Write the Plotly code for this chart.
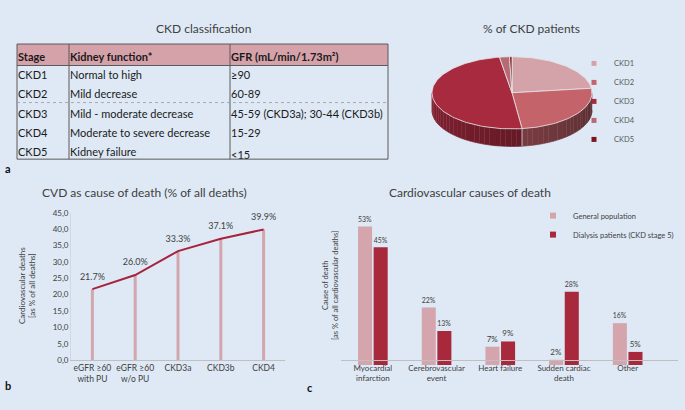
import numpy as np
import plotly.graph_objects as go

W, H = 685, 410
FONT = "Lato"
BG = "#dee9f5"
TXT = "#404040"

# ---- data ----
table_header = ["Stage", "Kidney function*", "GFR (mL/min/1.73m²)"]
stages = ["CKD1", "CKD2", "CKD3", "CKD4", "CKD5"]
kidney_function = ["Normal to high", "Mild decrease", "Mild - moderate decrease",
                   "Moderate to severe decrease", "Kidney failure"]
gfr = ["≥90", "60-89", "45-59 (CKD3a); 30-44 (CKD3b)", "15-29", "<15"]

pie_share = [23, 25, 49.5, 2, 0.5]

cvd_groups = ["eGFR ≥60<br>with PU", "eGFR ≥60<br>w/o PU", "CKD3a", "CKD3b", "CKD4"]
cvd_share = [21.7, 26.0, 33.3, 37.1, 39.9]

causes = ["Myocardial<br>infarction", "Cerebrovascular<br>event", "Heart failure",
          "Sudden cardiac<br>death", "Other"]
general_pop = [53, 22, 7, 2, 16]
dialysis = [45, 13, 9, 28, 5]


def px_x(x):
    return x / W


def px_y(y):
    return 1 - y / H


def darken(hexcol, f):
    r, g, b = (int(hexcol[i:i + 2], 16) for i in (1, 3, 5))
    return "#%02x%02x%02x" % (int(r * f), int(g * f), int(b * f))


fig = go.Figure()

# ---- a: table, header row and body as two table traces ----
no_header = dict(values=[], height=0, line_color="rgba(0,0,0,0)", fill_color="rgba(0,0,0,0)")
cell_style = dict(align="left", fill_color="rgba(0,0,0,0)", line_color="rgba(0,0,0,0)",
                  font=dict(family=FONT, size=11, color="#1a1a1a"), height=19.2)
fig.add_trace(go.Table(
    domain=dict(x=[px_x(10), px_x(407)], y=[px_y(70), px_y(22)]),
    columnwidth=[52, 161, 184], header=no_header,
    cells=dict(values=[[f"<b>{h}</b>"] for h in table_header], **cell_style),
))
fig.add_trace(go.Table(
    domain=dict(x=[px_x(10), px_x(407)], y=[px_y(178), px_y(43)]),
    columnwidth=[52, 161, 184], header=no_header,
    cells=dict(values=[stages, kidney_function, gfr], **cell_style),
))

# ---- a: 3d-looking pie ----
pie_cols = ["#d4a3aa", "#c5636b", "#a72a3e", "#b56a74", "#7b1520"]
cx, cy, rx, ry, depth = 512, 90, 80, 37, 18
bounds = np.cumsum([0] + pie_share) / sum(pie_share) * 360


def ell(t):
    t = np.radians(t)
    return cx + rx * np.sin(t), cy - ry * np.cos(t)


for i in range(len(stages)):
    s0, s1 = max(bounds[i], 90), min(bounds[i + 1], 270)
    if s1 <= s0:
        continue
    edges = np.linspace(s0, s1, int(np.ceil((s1 - s0) / 4)) + 1)
    for e0, e1 in zip(edges[:-1], edges[1:]):
        ts = np.linspace(e0, e1, 4)
        xs, ys = ell(ts)
        px_ = list(xs) + list(xs[::-1])
        py_ = list(ys) + list((ys + depth)[::-1])
        f = 0.45 + 0.35 * ((e0 + e1) / 2 - 90) / 180
        fig.add_trace(go.Scatter(x=px_, y=py_, fill="toself", mode="lines",
                                 line=dict(width=0.6, color=darken(pie_cols[i], f)),
                                 fillcolor=darken(pie_cols[i], f),
                                 xaxis="x3", yaxis="y3", showlegend=False, hoverinfo="skip"))

for b in bounds[1:-1]:
    if 90 < b < 270:
        bx, by = ell(b)
        fig.add_trace(go.Scatter(x=[bx, bx], y=[by, by + depth], mode="lines",
                                 line=dict(color="#e0e0e0", width=0.8),
                                 xaxis="x3", yaxis="y3", showlegend=False, hoverinfo="skip"))

for i, name in enumerate(stages):
    ts = np.linspace(bounds[i], bounds[i + 1], max(3, int((bounds[i + 1] - bounds[i]) / 2) + 2))
    xs, ys = ell(ts)
    fig.add_trace(go.Scatter(x=[cx] + list(xs) + [cx], y=[cy] + list(ys) + [cy],
                             fill="toself", mode="lines", name=name, showlegend=False,
                             line=dict(color="#e6e6e6", width=0.8), fillcolor=pie_cols[i],
                             xaxis="x3", yaxis="y3", hoverinfo="skip"))
    # small square legend key
    fig.add_trace(go.Scatter(x=[None], y=[None], mode="markers", name=name,
                             marker=dict(symbol="square", size=5, color=pie_cols[i]),
                             xaxis="x3", yaxis="y3", legend="legend2"))

# ---- b: line chart ----
fig.add_trace(go.Bar(x=cvd_groups, y=cvd_share, width=0.07, marker_color="#d3a6ae",
                     marker_line_width=0, showlegend=False, hoverinfo="skip",
                     xaxis="x", yaxis="y"))
# invisible markers just to lift the value labels off the line
fig.add_trace(go.Scatter(x=cvd_groups, y=cvd_share, mode="lines+markers+text",
                         line=dict(color="#a6243b", width=2),
                         marker=dict(size=10, opacity=0),
                         text=[f"{v:.1f}%" for v in cvd_share], textposition="top center",
                         textfont=dict(family=FONT, size=9, color=TXT),
                         cliponaxis=False, showlegend=False, xaxis="x", yaxis="y"))

# ---- c: grouped bars ----
bar_cols = {"General population": "#d4a5ad", "Dialysis patients (CKD stage 5)": "#a8283c"}
for name, vals in [("General population", general_pop),
                   ("Dialysis patients (CKD stage 5)", dialysis)]:
    fig.add_trace(go.Bar(name=name, x=causes, y=vals, showlegend=False,
                         marker_color=bar_cols[name], marker_line_width=0,
                         text=[f"{v}%" for v in vals], textposition="outside",
                         textfont=dict(family=FONT, size=8, color=TXT), cliponaxis=False,
                         xaxis="x2", yaxis="y2"))
    fig.add_trace(go.Scatter(x=[None], y=[None], mode="markers", name=name,
                             marker=dict(symbol="square", size=6, color=bar_cols[name]),
                             xaxis="x2", yaxis="y2", legend="legend"))

# table borders + header fill
shapes = [dict(type="rect", xref="paper", yref="paper", x0=px_x(17), x1=px_x(388),
               y0=px_y(62), y1=px_y(40), fillcolor="#d5a2aa", line_width=0, layer="below")]
for x in (17, 69, 230, 388):
    shapes.append(dict(type="line", xref="paper", yref="paper", x0=px_x(x), x1=px_x(x),
                       y0=px_y(158), y1=px_y(40), line=dict(color="#5a5a5a", width=1)))
for y in (40, 62, 158):
    shapes.append(dict(type="line", xref="paper", yref="paper", x0=px_x(17), x1=px_x(388),
                       y0=px_y(y), y1=px_y(y), line=dict(color="#5a5a5a", width=1)))
shapes.append(dict(type="line", xref="paper", yref="paper", x0=px_x(17), x1=px_x(388),
                   y0=px_y(100), y1=px_y(100), line=dict(color="#9a9a9a", width=0.8, dash="dot")))

annotations = []


def note(text, x, y, size, color=TXT, angle=0):
    annotations.append(dict(text=text, x=px_x(x), y=px_y(y), xref="paper", yref="paper",
                            xanchor="center", yanchor="middle", textangle=angle,
                            showarrow=False, font=dict(family=FONT, size=size, color=color)))


note("CKD classification", 203, 24, 12)
note("% of CKD patients", 531, 24, 12)
note("CVD as cause of death (% of all deaths)", 144, 192, 12)
note("Cardiovascular causes of death", 470, 192, 12)
note("<b>a</b>", 8, 168, 11, "#111111")
note("<b>b</b>", 8, 390, 11, "#111111")
note("<b>c</b>", 310, 392, 11, "#111111")
note("Cardiovascular deaths<br>[as % of all deaths]", 27, 288, 8, angle=-90)
note("Cause of death<br>[as % of all cardiovascular deaths]", 331, 288, 7.5, angle=-90)

fig.update_layout(
    width=W, height=H, autosize=False,
    margin=dict(l=0, r=0, t=0, b=0),
    paper_bgcolor=BG, plot_bgcolor=BG,
    font=dict(family=FONT, color=TXT),
    separators=",.",
    barmode="group", bargap=0.51, bargroupgap=0.1,
    shapes=shapes, annotations=annotations,
    xaxis=dict(domain=[px_x(71), px_x(285)], range=[-0.5, 4.5], showline=True,
               linecolor="#bfbfbf", linewidth=1, showgrid=False, ticks="",
               tickfont=dict(size=8.5, color=TXT), fixedrange=True),
    yaxis=dict(domain=[px_y(364), px_y(213)], range=[0, 45], dtick=5, tickformat=".1f",
               showgrid=False, zeroline=False, showline=True, linecolor="#d0d8e2",
               linewidth=1, ticks="", ticklabelstandoff=0,
               tickfont=dict(size=8, color=TXT), fixedrange=True),
    xaxis2=dict(domain=[px_x(341), px_x(678)], range=[-0.5, 4.79], showline=True,
                linecolor="#bfbfbf", linewidth=1, showgrid=False, ticks="",
                tickfont=dict(size=8, color=TXT), fixedrange=True),
    yaxis2=dict(domain=[px_y(369), px_y(213)], range=[0, 58.2], visible=False, fixedrange=True),
    xaxis3=dict(domain=[px_x(420), px_x(600)], range=[420, 600], visible=False, fixedrange=True),
    yaxis3=dict(domain=[px_y(160), px_y(40)], range=[160, 40], visible=False, fixedrange=True),
    legend=dict(x=px_x(533), y=px_y(201), xanchor="left", yanchor="top",
                font=dict(size=7.5, color=TXT), bgcolor="rgba(0,0,0,0)"),
    legend2=dict(x=px_x(574), y=px_y(45), xanchor="left", yanchor="top",
                 font=dict(size=7.5, color="#595959"), bgcolor="rgba(0,0,0,0)"),
)

# page body has a default 8px margin; drop it so the figure sits at the window origin
fig.write_html("out.html", config={"displayModeBar": False},
               post_script="document.body.style.margin='0';")
